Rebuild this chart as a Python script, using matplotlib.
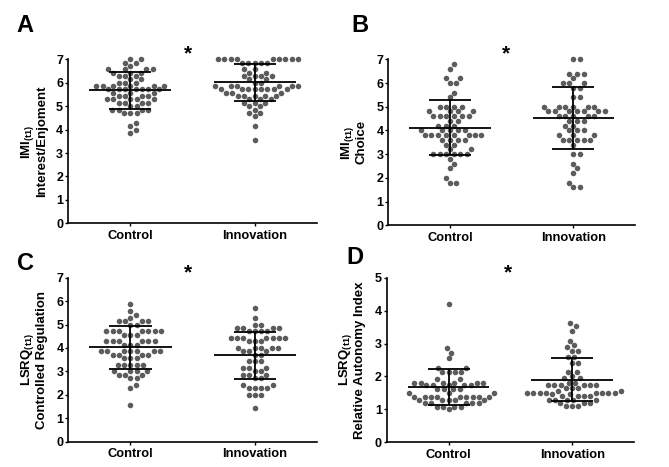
import numpy as np
import matplotlib
matplotlib.use("Agg")
import matplotlib.pyplot as plt

plt.rcParams["font.family"] = ["Liberation Sans", "DejaVu Sans"]
plt.rcParams["font.weight"] = "bold"
plt.rcParams["mathtext.fontset"] = "custom"
plt.rcParams["mathtext.rm"] = "Liberation Sans:bold"
plt.rcParams["mathtext.it"] = "Liberation Sans:bold"
plt.rcParams["mathtext.bf"] = "Liberation Sans:bold"

# ─── Data (value: count per row) ─────────────────────────────────────────────
GROUPS = ["Control", "Innovation"]

a_control = {7.0: 2, 6.857: 2, 6.714: 1, 6.571: 4, 6.429: 3, 6.286: 3, 6.143: 2, 6.0: 3,
             5.857: 6, 5.714: 7, 5.571: 3, 5.429: 4, 5.286: 5, 5.143: 4, 5.0: 2, 4.857: 4,
             4.714: 3, 4.286: 1, 4.143: 1, 4.0: 1, 3.857: 1}
a_innov = {7.0: 9, 6.857: 5, 6.571: 2, 6.429: 2, 6.286: 4, 6.143: 2, 6.0: 2, 5.857: 6,
           5.714: 8, 5.571: 3, 5.429: 5, 5.286: 3, 5.143: 3, 5.0: 2, 4.857: 1, 4.714: 2,
           4.571: 1, 4.143: 1, 3.571: 1}
b_control = {6.8: 1, 6.6: 1, 6.2: 2, 6.0: 2, 5.6: 1, 5.4: 1, 5.0: 4, 4.8: 4, 4.6: 6,
             4.4: 2, 4.2: 3, 4.0: 5, 3.8: 8, 3.6: 4, 3.4: 2, 3.2: 2, 3.0: 6, 2.8: 1,
             2.6: 1, 2.4: 1, 2.0: 1, 1.8: 2}
b_innov = {7.0: 2, 6.4: 3, 6.2: 1, 6.0: 3, 5.8: 2, 5.4: 2, 5.0: 6, 4.8: 7, 4.6: 5,
           4.4: 3, 4.2: 2, 4.0: 3, 3.8: 3, 3.6: 5, 3.4: 1, 3.0: 2, 2.6: 1, 2.4: 1,
           2.2: 1, 1.8: 1, 1.6: 2}
c_control = {5.857: 1, 5.571: 1, 5.429: 1, 5.286: 1, 5.143: 4, 5.0: 2, 4.714: 7, 4.571: 3,
             4.286: 6, 4.143: 3, 3.857: 7, 3.714: 4, 3.571: 3, 3.286: 5, 3.0: 4, 2.857: 3,
             2.714: 2, 2.429: 1, 2.286: 1, 1.571: 1}
c_innov = {5.714: 1, 5.286: 1, 5.0: 2, 4.857: 4, 4.714: 4, 4.429: 7, 4.286: 3, 4.0: 5,
           3.857: 3, 3.714: 2, 3.429: 3, 3.143: 3, 3.0: 2, 2.857: 3, 2.714: 2, 2.429: 2,
           2.286: 4, 2.0: 3, 1.429: 1}
d_control = {4.2: 1, 2.85: 1, 2.72: 1, 2.55: 1, 2.27: 2, 2.14: 4, 1.91: 2, 1.81: 6,
             1.74: 5, 1.61: 4, 1.49: 3, 1.39: 9, 1.27: 5, 1.18: 5, 1.08: 4, 1.0: 1}
d_innov = {3.61: 1, 3.53: 1, 3.38: 1, 3.09: 1, 2.96: 1, 2.88: 1, 2.78: 2, 2.6: 2,
           2.42: 2, 2.14: 2, 2.01: 1, 1.94: 2, 1.81: 2, 1.74: 6, 1.64: 3, 1.56: 2,
           1.51: 8, 1.46: 2, 1.41: 4, 1.29: 5, 1.19: 3, 1.1: 3}

# mean and SD as drawn in the figure
means = {"A": [5.68, 6.01], "B": [4.12, 4.52], "C": [4.03, 3.68], "D": [1.68, 1.90]}
sds = {"A": [0.79, 0.81], "B": [1.17, 1.30], "C": [0.92, 1.01], "D": [0.56, 0.66]}

PANELS = {
    "A": dict(data=[a_control, a_innov], ymax=7, ylab="IMI$_{(t1)}$\nInterest/Enjoment",
              box=(68, 317, 59.3, 223.3), letter=(25, 25), star=(0.46, 7.22)),
    "B": dict(data=[b_control, b_innov], ymax=7, ylab="IMI$_{(t1)}$\nChoice",
              box=(388.3, 635, 59.3, 225.3), letter=(360, 25), star=(0.45, 7.22)),
    "C": dict(data=[c_control, c_innov], ymax=7, ylab="LSRQ$_{(t1)}$\nControlled Regulation",
              box=(68.3, 317, 277.7, 441.7), letter=(25, 263), star=(0.46, 7.22)),
    "D": dict(data=[d_control, d_innov], ymax=5, ylab="LSRQ$_{(t1)}$\nRelative Autonomy Index",
              box=(386.7, 634, 277.7, 442.3), letter=(355, 258), star=(0.48, 5.15)),
}

W, H = 669, 467
DOT = "#5c5c5c"
D_PX = 6.3  # dot spacing in pixels


def swarm(ax, xc, vals):
    """Beeswarm offsets (data units) so dots don't overlap."""
    pts = ax.transData.transform(np.column_stack([np.full(len(vals), xc), vals]))
    px_per_x = ax.transData.transform((1, 0))[0] - ax.transData.transform((0, 0))[0]
    placed = []
    offs = np.zeros(len(vals))
    for i in np.argsort(vals, kind="stable"):
        y0 = pts[i, 1]
        cands = [0.0]
        for px, py in placed:
            dy = y0 - py
            if abs(dy) < D_PX:
                dx = np.sqrt(D_PX ** 2 - dy ** 2)
                cands += [px + dx, px - dx]
        cands = sorted(set(cands), key=lambda c: (round(abs(c), 6), -c))
        for c in cands:
            if all((c - px) ** 2 + (y0 - py) ** 2 >= D_PX ** 2 - 1e-6 for px, py in placed):
                break
        placed.append((c, y0))
        offs[i] = c
    return offs / px_per_x


fig = plt.figure(figsize=(W / 100, H / 100), dpi=100)

for key, p in PANELS.items():
    l, r, t, b = p["box"]
    ax = fig.add_axes([l / W, 1 - b / H, (r - l) / W, (b - t) / H])
    ax.set_xlim(-0.5, 1.5)
    ax.set_ylim(0, p["ymax"])
    for gi, grp in enumerate(p["data"]):
        vals = np.repeat(list(grp.keys()), list(grp.values())).astype(float)
        offs = swarm(ax, gi, vals)
        ax.scatter(gi + offs, vals, s=16, color=DOT, linewidths=0, zorder=2, clip_on=False)
        m, sd = means[key][gi], sds[key][gi]
        ax.hlines(m, gi - 0.33, gi + 0.33, color="black", lw=1.3, zorder=3)
        ax.hlines([m - sd, m + sd], gi - 0.17, gi + 0.17, color="black", lw=1.3, zorder=3)
        ax.vlines(gi, m - sd, m + sd, color="black", lw=1.3, zorder=3)

    for s in ["top", "right"]:
        ax.spines[s].set_visible(False)
    for s in ["left", "bottom"]:
        ax.spines[s].set_linewidth(1.2)
    ax.set_xticks([0, 1])
    ax.set_xticklabels(GROUPS, fontsize=9.3, fontweight="bold")
    ax.set_yticks(range(p["ymax"] + 1))
    ax.tick_params(axis="y", labelsize=9, length=2.5, width=1, pad=1)
    ax.tick_params(axis="x", length=2.5, width=1, pad=2)
    for lab in ax.get_yticklabels():
        lab.set_fontweight("bold")
    ax.set_ylabel(p["ylab"], fontsize=9.5, fontweight="bold", linespacing=1.0, labelpad=6)

    sx, sy = p["star"]
    ax.text(sx, sy, "*", fontsize=15, fontweight="bold", ha="center", va="center")
    fig.text(p["letter"][0] / W, 1 - p["letter"][1] / H, key, fontsize=17,
             fontweight="bold", ha="center", va="center")

fig.savefig("out.png", dpi=100)
